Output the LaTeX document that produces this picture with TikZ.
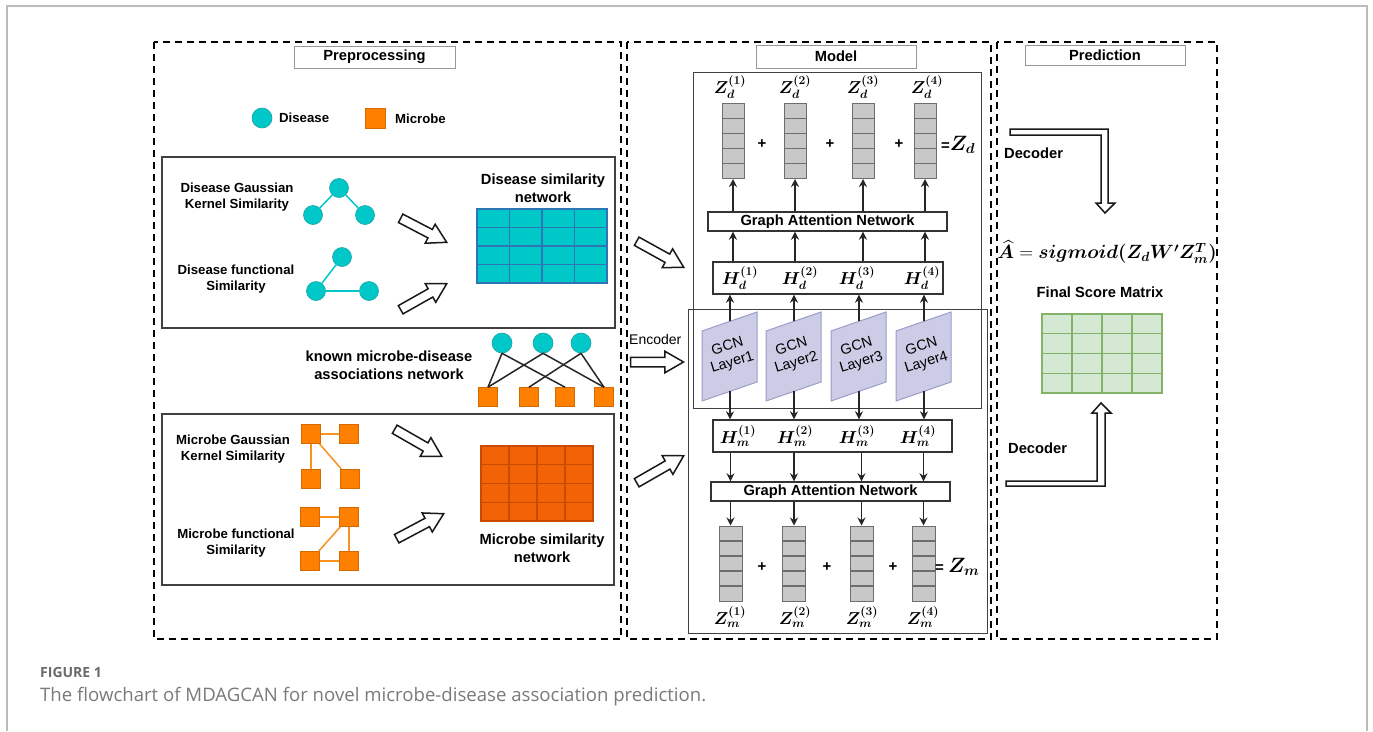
\documentclass[tikz,border=0pt]{standalone}
\usepackage{fontspec}
\setmainfont{Liberation Sans}
\newfontfamily\capfont{Open Sans}
\usepackage{amsmath}
\usepackage{bm}
\usetikzlibrary{calc,shapes.arrows,arrows.meta}
\definecolor{dis}{HTML}{00C8C8}
\definecolor{disb}{HTML}{1AA3A3}
\definecolor{mic}{HTML}{FF8000}
\definecolor{micb}{HTML}{D46A00}
\definecolor{micl}{HTML}{F7931E}
\definecolor{matb}{HTML}{2E75B6}
\definecolor{mred}{HTML}{F26207}
\definecolor{mredb}{HTML}{C84B00}
\definecolor{gcnf}{HTML}{CCCCE6}
\definecolor{gcnb}{HTML}{9C9CC8}
\definecolor{grf}{HTML}{D5E8D4}
\definecolor{grb}{HTML}{82B366}
\definecolor{vecf}{HTML}{C8C8C8}
\definecolor{vecb}{HTML}{6E6E6E}
\definecolor{framec}{HTML}{BBBBBB}
\definecolor{capdark}{HTML}{6A6A6A}
\definecolor{caplight}{HTML}{7A7A7A}
\tikzset{
  panel/.style={draw=black, line width=2pt, dash pattern=on 7pt off 5pt},
  titlebox/.style={draw=black!40, line width=0.9pt, fill=white, inner sep=0pt,
    font=\bfseries\fontsize{14.7}{17}\selectfont},
  innerbox/.style={draw=black!75, line width=1.1pt},
  lab/.style={font=\bfseries\fontsize{13.2}{16}\selectfont, align=center},
  biglab/.style={font=\bfseries\fontsize{14.7}{18}\selectfont, align=center},
  dnode/.style={circle, fill=dis, draw=disb, line width=0.6pt, minimum size=19pt, inner sep=0pt},
  mnode/.style={rectangle, fill=mic, draw=micb, line width=0.6pt, minimum size=19pt, inner sep=0pt},
  dedge/.style={draw=dis, line width=1.5pt},
  medge/.style={draw=micl, line width=1.5pt},
  aedge/.style={draw=black!85, line width=1.5pt},
  arr/.style={-{Stealth[length=8pt,width=8pt]}, line width=1.6pt, draw=black!85},
  boxn/.style={draw=black!80, line width=1.4pt, fill=white, inner sep=0pt},
  gan/.style={boxn, font=\bfseries\fontsize{14.7}{17}\selectfont},
  vec/.style={draw=vecb, fill=vecf, line width=1pt, minimum width=22pt, minimum height=75pt, inner sep=0pt,
    path picture={\foreach \k in {1,2,3,4}{\draw[vecb, line width=1.2pt]
      ($(path picture bounding box.north west)!\k/5!(path picture bounding box.south west)$) --
      ($(path picture bounding box.north east)!\k/5!(path picture bounding box.south east)$);}}},
  gridmat/.style={draw=#1, line width=1.2pt, inner sep=0pt,
    path picture={\foreach \k in {1,2,3}{
      \draw[#1, line width=1.2pt]
      ($(path picture bounding box.north west)!\k/4!(path picture bounding box.north east)$) --
      ($(path picture bounding box.south west)!\k/4!(path picture bounding box.south east)$);
      \draw[#1, line width=1.2pt]
      ($(path picture bounding box.north west)!\k/4!(path picture bounding box.south west)$) --
      ($(path picture bounding box.north east)!\k/4!(path picture bounding box.south east)$);}}},
  mlab/.style={font=\fontsize{17}{19}\selectfont, inner sep=0pt},
  plus/.style={font=\bfseries\fontsize{15}{17}\selectfont},
  blockarrow/.style={single arrow, draw=black!90, fill=white, line width=1.5pt, inner sep=4pt,
    single arrow head extend=6pt, single arrow tip angle=60},
  gcn/.style={draw=gcnb, fill=gcnf, line width=1pt},
  gcnlab/.style={font=\fontsize{14.5}{16.5}\selectfont, align=center, rotate=17},
  hollow/.style={draw=black!90, fill=white, line width=1.5pt, line join=miter}
}
\newcommand\blockarr[2]{\path let \p1=($(#2)-(#1)$), \n1={veclen(\x1,\y1)}, \n2={atan2(\y1,\x1)} in
  node[blockarrow, minimum height=\n1, rotate=\n2, anchor=tip] at (#2) {};}
\begin{document}
\begin{tikzpicture}[x=1pt,y=-1pt]
\useasboundingbox (0,0) rectangle (1373,731);
\fill[white] (0,0) rectangle (1373,731);
% outer frame
\draw[framec, line width=1.2pt] (7,731) -- (7,6) -- (1367,6) -- (1367,731);

% panels
\draw[panel] (154,42) rectangle (621,639);
\draw[panel] (627,42) rectangle (991,639);
\draw[panel] (997,42) rectangle (1217,639);
\node[titlebox, minimum width=161pt, minimum height=22pt] (tpre) at (374.5,57) {Preprocessing};
\node[titlebox, minimum width=160pt, minimum height=23pt] (tmod) at (836,56.5) {Model};
\node[titlebox, minimum width=160pt, minimum height=20pt] (tpred) at (1105,55) {Prediction};

% ---------- Preprocessing ----------
\node[dnode, minimum size=20pt] (legd) at (262,118) {};
\node[lab, anchor=west, inner sep=0pt] (legdt) at (279,118) {Disease};
\node[mnode, minimum size=20pt] (legm) at (375,118) {};
\node[lab, anchor=west, inner sep=0pt] (legmt) at (395,119) {Microbe};

\draw[innerbox] (162,157) rectangle (615,328);
\node[lab] (dgk) at (237,197) {Disease Gaussian\\Kernel Similarity};
\node[lab] (dfs) at (236,279) {Disease functional\\Similarity};
\node[dnode] (d1) at (339,188) {};
\node[dnode] (d2) at (313,215) {};
\node[dnode] (d3) at (365,215) {};
\draw[dedge] (d1) -- (d2); \draw[dedge] (d1) -- (d3);
\node[dnode] (d4) at (342,257) {};
\node[dnode] (d5) at (316,291) {};
\node[dnode] (d6) at (369,291) {};
\draw[dedge] (d4) -- (d5); \draw[dedge] (d5) -- (d6);
\node[biglab] (dsn) at (543,188) {Disease similarity\\network};
\node[gridmat=matb, fill=dis, minimum width=130pt, minimum height=74pt] (dmat) at (542,246) {};
\coordinate (ba1s) at (402,219); \coordinate (ba1e) at (448,243);
\coordinate (ba2s) at (402,309); \coordinate (ba2e) at (448,283);
\blockarr{ba1s}{ba1e}
\blockarr{ba2s}{ba2e}

% association network
\node[biglab] (kmd) at (389,365) {known microbe-disease\\associations network};
\node[dnode, minimum size=20pt] (c1) at (502,343) {};
\node[dnode, minimum size=20pt] (c2) at (543,343) {};
\node[dnode, minimum size=20pt] (c3) at (581,343) {};
\node[mnode] (s1) at (488,397) {};
\node[mnode] (s2) at (529,397) {};
\node[mnode] (s3) at (565,397) {};
\node[mnode] (s4) at (604,397) {};
\draw[aedge] (c1.south) -- (s1.north);
\draw[aedge] (c1.south) -- (s3.north);
\draw[aedge] (c2.south) -- (s1.north);
\draw[aedge] (c2.south) -- (s4.north);
\draw[aedge] (c3.south) -- (s2.north);
\draw[aedge] (c3.south) -- (s4.north);

% microbe box
\draw[innerbox] (162,414) rectangle (614,585);
\node[lab] (mgk) at (233,449) {Microbe Gaussian\\Kernel Similarity};
\node[lab] (mfs) at (236,543) {Microbe functional\\Similarity};
\draw[medge] (311,434) -- (349,434);
\draw[medge] (311,434) -- (311,479);
\draw[medge] (311,434) -- (350,479);
\node[mnode] (m1) at (311,434) {};
\node[mnode] (m2) at (349,434) {};
\node[mnode] (m3) at (311,479) {};
\node[mnode] (m4) at (350,479) {};
\draw[medge] (m1) -- (m2);
\node[mnode] (n1) at (310,517) {};
\node[mnode] (n2) at (349,517) {};
\node[mnode] (n3) at (310,561) {};
\node[mnode] (n4) at (349,561) {};
\draw[medge] (n1) -- (n2);
\draw[medge] (n2) -- (n3);
\draw[medge] (n2) -- (n4);
\draw[medge] (n3) -- (n4);
\node[gridmat=mredb, fill=mred, minimum width=112pt, minimum height=75pt] (mmat) at (537,483.5) {};
\node[biglab] (msn) at (542,548) {Microbe similarity\\network};
\coordinate (ba3s) at (396,430); \coordinate (ba3e) at (443,457);
\coordinate (ba4s) at (398,538); \coordinate (ba4e) at (445,513);
\blockarr{ba3s}{ba3e}
\blockarr{ba4s}{ba4e}

% ---------- Model ----------
\coordinate (ba5s) at (638,242); \coordinate (ba5e) at (685,268);
\coordinate (ba6s) at (632,362); \coordinate (ba6e) at (685,362);
\coordinate (ba7s) at (638,482); \coordinate (ba7e) at (685,455);
\blockarr{ba5s}{ba5e}
\blockarr{ba6s}{ba6e}
\blockarr{ba7s}{ba7e}
\node[anchor=west, inner sep=0pt, font=\fontsize{14}{16}\selectfont] (enc) at (629,339) {Encoder};

\draw[innerbox, line width=1pt] (693,72) rectangle (981,408);
\draw[innerbox, line width=1pt] (688,309) rectangle (987,633);

% Z_d vectors
\foreach \i/\x/\lx in {1/733/730,2/795/795,3/863/863,4/925/927}{
  \node[vec] (zd\i) at (\x,141) {};
  \node[mlab] (zdl\i) at (\lx,87) {$\bm{Z_d^{(\i)}}$};
}
\node[plus] (pd1) at (762,144) {+};
\node[plus] (pd2) at (830,144) {+};
\node[plus] (pd3) at (899,144) {+};
\node[anchor=west, inner sep=0pt] (zdsum) at (941,145) {{\bfseries\fontsize{15}{17}\selectfont =}{\fontsize{22}{24}\selectfont$\bm{Z_d}$}};

\node[gan, minimum width=239pt, minimum height=19pt] (gat1) at (827.5,221.5) {Graph Attention Network};
\node[boxn, minimum width=230pt, minimum height=32pt] (hd) at (828,278) {};
\foreach \i/\x in {1/740,2/800,3/857,4/922}{
  \node[mlab] (hdl\i) at (\x,278) {$\bm{H_d^{(\i)}}$};
}
\foreach \i in {1,2,3,4}{
  \draw[arr] (zd\i |- gat1.north) -- (zd\i.south);
  \draw[arr] (zd\i |- hd.north) -- (zd\i |- gat1.south);
}

% GCN layers
\foreach \i/\L in {1/702,2/766,3/831,4/896}{
  \draw[gcn] (\L,331) -- (\L+55,312) -- (\L+55,382) -- (\L,401) -- cycle;
  \node[gcnlab] (gcn\i) at (\L+28,355) {GCN\\Layer\i};
  \coordinate (gt\i) at (\L+28,321.3);
  \coordinate (gb\i) at (\L+28,391.3);
}

\node[boxn, minimum width=239pt, minimum height=32pt] (hm) at (832.5,436) {};
\foreach \i/\x in {1/738,2/795,3/857,4/918}{
  \node[mlab] (hml\i) at (\x,436) {$\bm{H_m^{(\i)}}$};
}
\foreach \i in {1,2,3,4}{
  \draw[arr] (gt\i) -- (gt\i |- hd.south);
  \draw[arr] (gb\i) -- (gb\i |- hm.north);
}
\node[gan, minimum width=239pt, minimum height=19pt] (gat2) at (830.5,491.5) {Graph Attention Network};

\foreach \i/\x/\lx in {1/730.5/730,2/794/795,3/861.5/862,4/923.5/923}{
  \node[vec, minimum width=23pt] (zm\i) at (\x,563.5) {};
  \node[mlab] (zml\i) at (\lx,617) {$\bm{Z_m^{(\i)}}$};
  \draw[arr] (zm\i |- hm.south) -- (zm\i |- gat2.north);
  \draw[arr] (zm\i |- gat2.south) -- (zm\i.north);
}
\node[plus] (pm1) at (762,567) {+};
\node[plus] (pm2) at (827,567) {+};
\node[plus] (pm3) at (893,567) {+};
\node[anchor=west, inner sep=0pt] (zmsum) at (935,567) {{\bfseries\fontsize{15}{17}\selectfont = }{\fontsize{22}{24}\selectfont$\bm{Z_m}$}};

% ---------- Prediction ----------
\draw[hollow] (1010,129) -- (1108,129) -- (1108,203) -- (1115,203) -- (1105,213) -- (1096,203) -- (1101,203) -- (1101,135) -- (1010,135) -- cycle;
\node[biglab, anchor=west, inner sep=0pt] (dec1) at (1004,153) {Decoder};
\node[inner sep=0pt, font=\fontsize{18.5}{21}\selectfont] (form) at (1107,252) {\scalebox{1.11}{$\widehat{\bm{A}} = \bm{sigmoid(Z_d W' Z_m^T)}$}};
\node[biglab] (fsm) at (1100,292) {Final Score Matrix};
\node[gridmat=grb, fill=grf, minimum width=120pt, minimum height=79pt] (gmat) at (1102,353.5) {};
\draw[hollow] (1006,486) -- (1105,486) -- (1105,413) -- (1111,413) -- (1101,403) -- (1092,413) -- (1097,413) -- (1097,481) -- (1006,481) -- cycle;
\node[biglab, anchor=west, inner sep=0pt] (dec2) at (1008,448) {Decoder};

% caption
\node[anchor=west, inner sep=0pt, text=capdark, font=\capfont\bfseries\fontsize{14}{16}\selectfont] (fig) at (40,672) {FIGURE 1};
\node[anchor=west, inner sep=0pt, text=caplight, font=\capfont\fontsize{18.6}{21}\selectfont] (cap) at (40,697) {The flowchart of MDAGCAN for novel microbe-disease association prediction.};
\end{tikzpicture}
\end{document}
